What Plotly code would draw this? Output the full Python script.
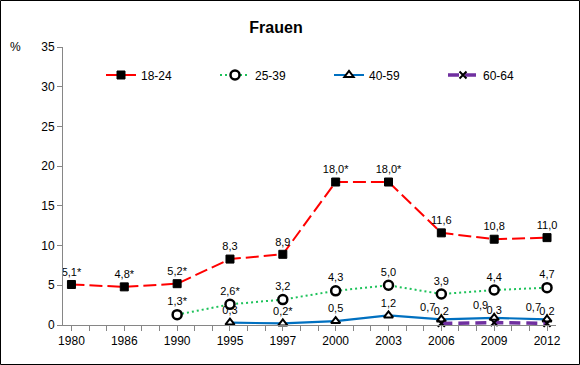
import plotly.graph_objects as go

years = ["1980", "1986", "1990", "1995", "1997", "2000", "2003", "2006", "2009", "2012"]

s18_24 = [5.1, 4.8, 5.2, 8.3, 8.9, 18.0, 18.0, 11.6, 10.8, 11.0]
s18_24_star = [1, 1, 1, 0, 0, 1, 1, 0, 0, 0]

s25_39 = [None, None, 1.3, 2.6, 3.2, 4.3, 5.0, 3.9, 4.4, 4.7]
s25_39_star = [0, 0, 1, 1, 0, 0, 0, 0, 0, 0]

s40_59 = [None, None, None, 0.3, 0.2, 0.5, 1.2, 0.7, 0.9, 0.7]
s40_59_star = [0, 0, 0, 0, 1, 0, 0, 0, 0, 0]

s60_64 = [None, None, None, None, None, None, None, 0.2, 0.3, 0.2]
s60_64_star = [0] * 10

y_ticks = [0, 5, 10, 15, 20, 25, 30, 35]

FONT = "Liberation Sans, Arial, sans-serif"
xi = list(range(len(years)))


def labels(vals, stars):
    out = []
    for v, s in zip(vals, stars):
        if v is None:
            out.append("")
        else:
            out.append(f"{v:.1f}".replace(".", ",") + ("*" if s else ""))
    return out


fig = go.Figure()

fig.add_trace(go.Scatter(
    x=xi, y=s18_24, name="18-24", mode="lines+markers+text",
    text=labels(s18_24, s18_24_star), textposition="top center",
    textfont=dict(size=11, color="#000000", family=FONT), cliponaxis=False,
    line=dict(color="#FF0000", width=2, dash="13px,5px"),
    marker=dict(symbol="square", size=8, color="#000000",
                line=dict(color="#000000", width=1)),
))

fig.add_trace(go.Scatter(
    x=xi, y=s25_39, name="25-39", mode="lines+markers+text",
    text=labels(s25_39, s25_39_star), textposition="top center",
    textfont=dict(size=11, color="#000000", family=FONT), cliponaxis=False,
    line=dict(color="#1DC25A", width=2, dash="2px,3px"),
    marker=dict(symbol="circle", size=9, color="#FFFFFF",
                line=dict(color="#000000", width=2.5)),
))

pos40 = ["top center"] * 7 + ["top left"] * 3
fig.add_trace(go.Scatter(
    x=xi, y=s40_59, name="40-59", mode="lines+markers+text",
    text=labels(s40_59, s40_59_star), textposition=pos40,
    textfont=dict(size=11, color="#000000", family=FONT), cliponaxis=False,
    line=dict(color="#0070C0", width=2.2),
    marker=dict(symbol="triangle-up", size=8, color="#FFFFFF",
                line=dict(color="#000000", width=2)),
))

fig.add_trace(go.Scatter(
    x=xi, y=s60_64, name="60-64", mode="lines+markers+text",
    text=labels(s60_64, s60_64_star), textposition="top center",
    textfont=dict(size=11, color="#000000", family=FONT), cliponaxis=False,
    line=dict(color="#7030A0", width=3.5, dash="11px,6px"),
    marker=dict(symbol="x-thin", size=7, color="#000000",
                line=dict(color="#000000", width=2)),
))

W, H = 580, 365
L, R, T, B = 63, 24, 47, 40
pw, ph = W - L - R, H - T - B

fig.update_layout(
    width=W, height=H,
    margin=dict(l=L, r=R, t=T, b=B, pad=0),
    paper_bgcolor="#FFFFFF", plot_bgcolor="#FFFFFF",
    font=dict(family=FONT, size=12, color="#000000"),
    title=dict(text="<b>Frauen</b>", x=276 / W, xanchor="center",
               y=1 - 27 / H, yanchor="middle",
               font=dict(size=16, family=FONT, color="#000000")),
    showlegend=True,
    legend=dict(orientation="h", x=(101 - L) / pw, xanchor="left",
                y=1 - (75 - T) / ph, yanchor="middle",
                font=dict(size=12, family=FONT),
                entrywidth=69, entrywidthmode="pixels",
                bgcolor="rgba(0,0,0,0)", itemwidth=30),
    xaxis=dict(
        range=[-0.16, 9.17], tickvals=xi, ticktext=years,
        showgrid=False, zeroline=False, showline=True,
        linecolor="#868686", linewidth=1,
        ticks="outside", ticklen=5, tickcolor="#868686",
        tickfont=dict(size=12, family=FONT),
        minor=dict(dtick=1 / 3, tick0=0, ticks="outside", ticklen=5,
                   tickcolor="#868686", showgrid=False),
    ),
    yaxis=dict(
        range=[0, 35], tickvals=y_ticks,
        showgrid=False, zeroline=False, showline=True,
        linecolor="#868686", linewidth=1,
        ticks="outside", ticklen=5, tickcolor="#868686",
        tickfont=dict(size=12, family=FONT),
    ),
    annotations=[dict(text="%", xref="paper", yref="paper",
                      x=(15 - L) / pw, y=1, xanchor="center", yanchor="middle",
                      showarrow=False, font=dict(size=12, family=FONT))],
    shapes=[dict(type="rect", xref="paper", yref="paper",
                 x0=(0.5 - L) / pw, x1=(W - 0.5 - L) / pw,
                 y0=(T + ph - (H - 0.5)) / ph + 0, y1=(T + ph - 0.5) / ph,
                 line=dict(color="#000000", width=1), fillcolor="rgba(0,0,0,0)",
                 layer="above")],
)

fig.write_html("out.html", config={"displayModeBar": False},
               post_script="document.body.style.margin='0';")
